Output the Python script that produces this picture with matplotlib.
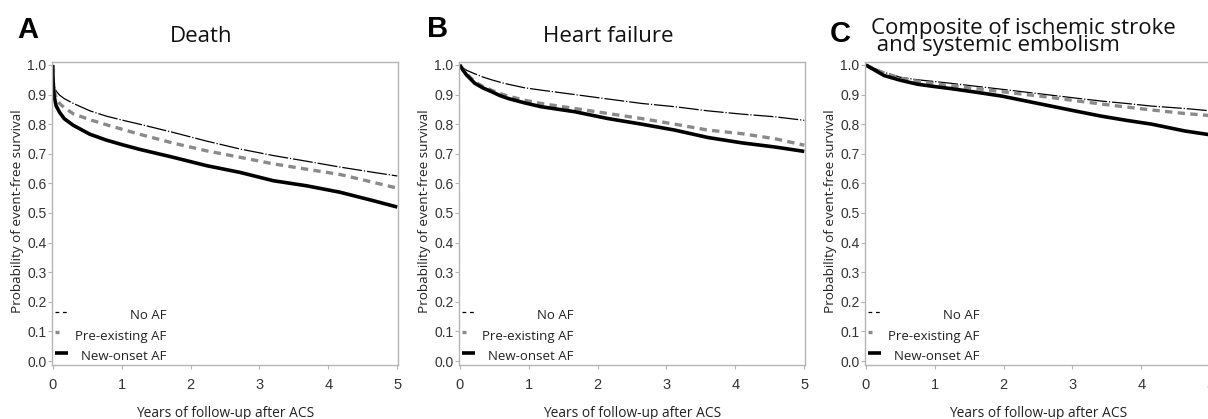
import matplotlib
matplotlib.use("Agg")
import matplotlib.pyplot as plt

# ---------------- data ----------------
years_a = [0.0, 0.005, 0.02, 0.05, 0.1, 0.17, 0.3, 0.54, 0.78, 1.02, 1.26, 1.75, 2.23, 2.72, 3.2, 3.68, 4.17, 4.66, 5.0]
death_no_af = [1.0, 0.96, 0.93, 0.912, 0.898, 0.886, 0.870, 0.845, 0.827, 0.813, 0.800, 0.772, 0.743, 0.716, 0.694, 0.675, 0.655, 0.637, 0.625]
death_pre_af = [1.0, 0.95, 0.915, 0.89, 0.870, 0.855, 0.835, 0.815, 0.798, 0.782, 0.766, 0.736, 0.710, 0.688, 0.666, 0.648, 0.630, 0.603, 0.584]
death_new_af = [1.0, 0.95, 0.895, 0.862, 0.840, 0.818, 0.796, 0.766, 0.746, 0.730, 0.715, 0.688, 0.660, 0.637, 0.609, 0.592, 0.570, 0.541, 0.520]

years_b = [0.0, 0.05, 0.1, 0.22, 0.34, 0.46, 0.58, 0.70, 0.94, 1.18, 1.67, 2.15, 2.64, 3.12, 3.60, 4.09, 4.57, 5.0]
hf_no_af = [1.0, 0.99, 0.982, 0.970, 0.959, 0.950, 0.942, 0.935, 0.923, 0.915, 0.900, 0.885, 0.870, 0.859, 0.845, 0.834, 0.825, 0.813]
hf_pre_af = [1.0, 0.985, 0.970, 0.943, 0.927, 0.915, 0.904, 0.895, 0.881, 0.870, 0.853, 0.836, 0.819, 0.800, 0.780, 0.768, 0.751, 0.729]
hf_new_af = [1.0, 0.982, 0.966, 0.938, 0.922, 0.910, 0.897, 0.887, 0.872, 0.859, 0.842, 0.819, 0.800, 0.780, 0.755, 0.737, 0.723, 0.708]

years_c = [0.0, 0.27, 0.51, 0.75, 1.0, 1.24, 1.6, 1.97, 2.33, 2.69, 3.05, 3.42, 3.78, 4.15, 4.63, 5.0]
se_no_af = [1.0, 0.975, 0.958, 0.950, 0.944, 0.938, 0.928, 0.918, 0.908, 0.898, 0.888, 0.878, 0.870, 0.861, 0.853, 0.845]
se_pre_af = [1.0, 0.972, 0.955, 0.945, 0.937, 0.930, 0.920, 0.910, 0.900, 0.890, 0.879, 0.868, 0.858, 0.848, 0.836, 0.829]
se_new_af = [1.0, 0.964, 0.948, 0.935, 0.927, 0.920, 0.908, 0.895, 0.878, 0.861, 0.844, 0.827, 0.813, 0.800, 0.777, 0.764]

panel_letters = ["A", "B", "C"]
panel_titles = ["Death", "Heart failure", "Composite of ischemic stroke\n and systemic embolism"]
series_names = ["No AF", "Pre-existing AF", "New-onset AF"]
x_ticks = [0, 1, 2, 3, 4, 5]
y_ticks = [0.0, 0.1, 0.2, 0.3, 0.4, 0.5, 0.6, 0.7, 0.8, 0.9, 1.0]

panels = [
    (years_a, [death_no_af, death_pre_af, death_new_af]),
    (years_b, [hf_no_af, hf_pre_af, hf_new_af]),
    (years_c, [se_no_af, se_pre_af, se_new_af]),
]

# ---------------- style ----------------
W, H = 1208, 419
fig = plt.figure(figsize=(W / 100, H / 100), dpi=100)
FONT = "Open Sans"
styles = [
    dict(color="black", lw=0.9, ls=(0, (16, 1.5, 1, 1.5))),
    dict(color="#8a8a8a", lw=2.4, ls=(0, (2.2, 1.6))),
    dict(color="black", lw=2.6, ls="-"),
]
ax_left_px = [52, 459, 865]
ax_w_px = 346
ax_top_px, ax_bot_px = 62, 365
title_cx = [201, 608, None]
spine_col = "#b5b5b5"

for i, (xs, ys_list) in enumerate(panels):
    l = ax_left_px[i] / W
    b = 1 - ax_bot_px / H
    w = ax_w_px / W
    h = (ax_bot_px - ax_top_px) / H
    ax = fig.add_axes([l, b, w, h])
    for ys, st in zip(ys_list, styles):
        ax.plot(xs, ys, color=st["color"], lw=st["lw"], linestyle=st["ls"],
                solid_capstyle="butt", dash_capstyle="butt", solid_joinstyle="round")
    ax.set_xlim(-0.01, 5.01)
    ax.set_ylim(-0.0135, 1.01)
    ax.set_xticks(x_ticks)
    ax.set_xticklabels([str(t) for t in x_ticks], fontsize=10.5, family="Liberation Sans")
    ax.set_yticks(y_ticks)
    ax.set_yticklabels([f"{t:.1f}" for t in y_ticks], fontsize=10, family="Liberation Sans")
    ax.tick_params(axis="both", colors=spine_col, labelcolor="#333333", length=3, width=0.8)
    ax.tick_params(axis="x", pad=6)
    ax.tick_params(axis="y", pad=1)
    for s in ax.spines.values():
        s.set_color(spine_col)
        s.set_linewidth(1.0)
    ax.set_xlabel("Years of follow-up after ACS", fontsize=9.9, family=FONT, color="#222222")
    ax.xaxis.set_label_coords(0.5, -0.135)
    ax.set_ylabel("Probability of event-free survival", fontsize=9.7, family=FONT, color="#222222")
    ax.yaxis.set_label_coords(-0.082, 0.508)

    # legend (drawn in axes coordinates)
    leg_y = [0.176, 0.108, 0.040]
    seg_ends = [0.045, 0.02, 0.045]
    text_y = [0.163, 0.095, 0.027]
    for k, st in enumerate(styles):
        ax.plot([0.008, seg_ends[k]], [leg_y[k], leg_y[k]], transform=ax.transAxes,
                color=st["color"], lw=st["lw"] if k != 0 else 0.9,
                linestyle=(0, (3, 3)) if k == 0 else "-", solid_capstyle="butt",
                clip_on=False)
        ax.text(0.33, text_y[k], series_names[k], transform=ax.transAxes, ha="right",
                va="center", fontsize=9.5, family=FONT, color="#222222")

    # panel letter and title
    lx = [17, 427, 830][i]
    fig.text(lx / W, 1 - [30, 29, 34][i] / H, panel_letters[i], fontsize=21, fontweight="bold",
             family="Liberation Sans", ha="left", va="center")
    if i < 2:
        fig.text(title_cx[i] / W, 1 - 37 / H, panel_titles[i], fontsize=16, family=FONT,
                 ha="center", va="center", color="#111111")
    else:
        fig.text(871 / W, 1 - 37 / H, panel_titles[i], fontsize=16, family=FONT,
                 ha="left", va="center", color="#111111", linespacing=0.8)

fig.savefig("out.png", dpi=100)
